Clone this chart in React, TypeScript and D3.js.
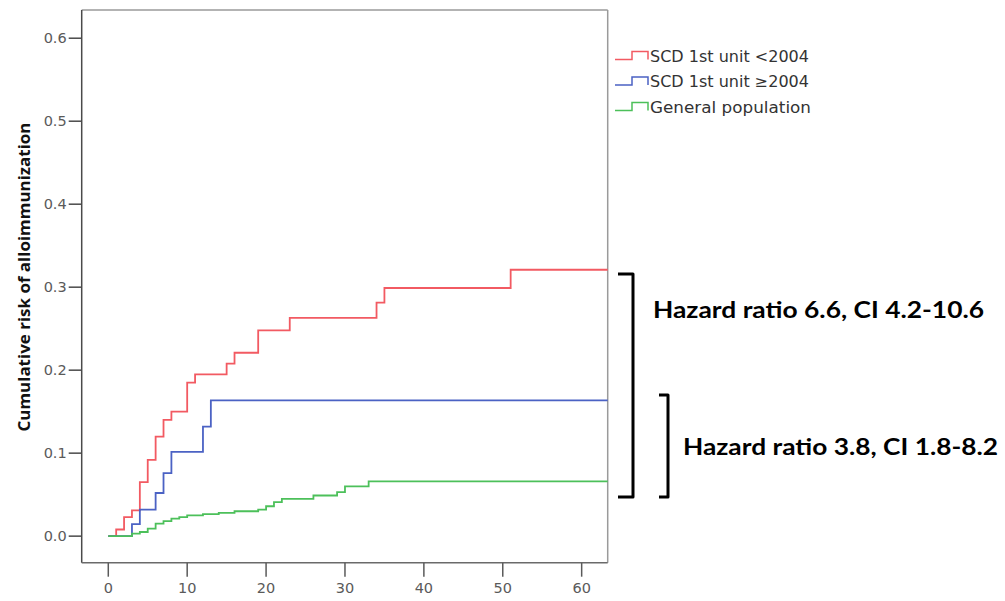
import React from "react";
import * as d3 from "d3";

const xTicks = [0, 10, 20, 30, 40, 50, 60];
const yTicks = [0.0, 0.1, 0.2, 0.3, 0.4, 0.5, 0.6];

// [time, cumulative risk]
const redSeries: [number, number][] = [
  [0, 0], [1, 0.008], [2, 0.023], [3, 0.031], [4, 0.065], [5, 0.092], [6, 0.12],
  [7, 0.14], [8, 0.15], [10, 0.185], [11, 0.195], [15, 0.208], [16, 0.221],
  [19, 0.248], [23, 0.263], [34, 0.2815], [35, 0.299], [51, 0.321], [63.3, 0.321],
];
const blueSeries: [number, number][] = [
  [0, 0], [3, 0.0145], [4, 0.032], [6, 0.052], [7, 0.076], [8, 0.1015],
  [12, 0.132], [13, 0.1635], [63.3, 0.1635],
];
const greenSeries: [number, number][] = [
  [0, 0], [3, 0.003], [4, 0.005], [5, 0.009], [6, 0.015], [7, 0.018], [8, 0.021],
  [9, 0.023], [10, 0.025], [12, 0.0265], [14, 0.028], [16, 0.03], [19, 0.032],
  [20, 0.036], [21, 0.041], [22, 0.045], [26, 0.049], [29, 0.053], [30, 0.06],
  [33, 0.066], [63.3, 0.066],
];

const legendLabels = ["SCD 1st unit <2004", "SCD 1st unit \u22652004", "General population"];
const seriesColors = ["#f25a62", "#4b62c4", "#4cc05a"];
const hrLabels = ["Hazard ratio 6.6, CI 4.2-10.6", "Hazard ratio 3.8, CI 1.8-8.2"];

export default function App() {
  const left = 81.7, right = 607.7, top = 10, bottom = 562.7;
  const x = d3.scaleLinear().domain([-3.37, 63.3]).range([left, right]);
  const y = d3.scaleLinear().domain([-0.032, 0.634]).range([bottom, top]);
  const line = d3
    .line<[number, number]>()
    .x((d) => x(d[0]))
    .y((d) => y(d[1]))
    .curve(d3.curveStepAfter);
  const series = [redSeries, blueSeries, greenSeries];
  const tickFont = "'DejaVu Sans', Verdana, sans-serif";
  const legendWidths = [159, 159, 161];

  return (
    <svg
      width={1005}
      height={601}
      style={{ position: "absolute", left: 0, top: 0, background: "#fff" }}
    >
      <rect x={0} y={0} width={1005} height={601} fill="#fff" />
      {/* frame */}
      <line x1={left} y1={top} x2={right} y2={top} stroke="#9a9a9a" strokeWidth={1.5} />
      <line x1={right} y1={top} x2={right} y2={bottom} stroke="#9a9a9a" strokeWidth={1.5} />
      <line x1={left} y1={top} x2={left} y2={bottom} stroke="#4a4a4a" strokeWidth={1.5} />
      <line x1={left} y1={bottom} x2={right} y2={bottom} stroke="#6a6a6a" strokeWidth={1.5} />

      {/* y ticks */}
      {yTicks.map((t) => (
        <g key={"y" + t}>
          <line x1={left - 13} x2={left} y1={y(t)} y2={y(t)} stroke="#4a4a4a" strokeWidth={1.5} />
          <text
            x={left - 15}
            y={y(t) + 5}
            textAnchor="end"
            fontSize={14.5}
            fill="#5a5a5a"
            fontFamily={tickFont}
          >
            {t.toFixed(1)}
          </text>
        </g>
      ))}
      {/* x ticks */}
      {xTicks.map((t) => (
        <g key={"x" + t}>
          <line x1={x(t)} x2={x(t)} y1={bottom} y2={bottom + 14} stroke="#5a5a5a" strokeWidth={1.5} />
          <text
            x={x(t)}
            y={bottom + 30}
            textAnchor="middle"
            fontSize={14.5}
            fill="#5a5a5a"
            fontFamily={tickFont}
          >
            {t}
          </text>
        </g>
      ))}

      {/* y title */}
      <text
        transform={`translate(30, 277) rotate(-90)`}
        textAnchor="middle"
        fontSize={15.5}
        fontWeight="bold"
        fill="#111"
        fontFamily="'Open Sans', sans-serif"
        textLength={309}
        lengthAdjust="spacingAndGlyphs"
      >
        Cumulative risk of alloimmunization
      </text>

      {/* series */}
      {series.map((s, i) => (
        <path key={"s" + i} d={line(s) || ""} fill="none" stroke={seriesColors[i]} strokeWidth={1.8} />
      ))}

      {/* legend */}
      {legendLabels.map((lab, i) => {
        const by = 61.5 + i * 25.5;
        return (
          <g key={"l" + i}>
            <path
              d={`M615,${by - 2} H632 V${by - 10} H648 V${by - 2}`}
              fill="none"
              stroke={seriesColors[i]}
              strokeWidth={1.5}
            />
            <text
              x={650}
              y={by}
              fontSize={15.5}
              fill="#333"
              fontFamily={tickFont}
              textLength={legendWidths[i]}
              lengthAdjust="spacingAndGlyphs"
            >
              {lab}
            </text>
          </g>
        );
      })}

      {/* brackets */}
      <path d="M618,274 H633 V497 H618" fill="none" stroke="#000" strokeWidth={3} strokeLinejoin="round" />
      <path d="M659,395 H668 V497 H659" fill="none" stroke="#000" strokeWidth={3} strokeLinejoin="round" />
      <text
        x={653}
        y={318}
        fontSize={22}
        fontWeight="bold"
        fill="#000"
        fontFamily="Lato, sans-serif"
        textLength={331}
        lengthAdjust="spacingAndGlyphs"
      >
        {hrLabels[0]}
      </text>
      <text
        x={683}
        y={455}
        fontSize={22}
        fontWeight="bold"
        fill="#000"
        fontFamily="Lato, sans-serif"
        textLength={315}
        lengthAdjust="spacingAndGlyphs"
      >
        {hrLabels[1]}
      </text>
    </svg>
  );
}
